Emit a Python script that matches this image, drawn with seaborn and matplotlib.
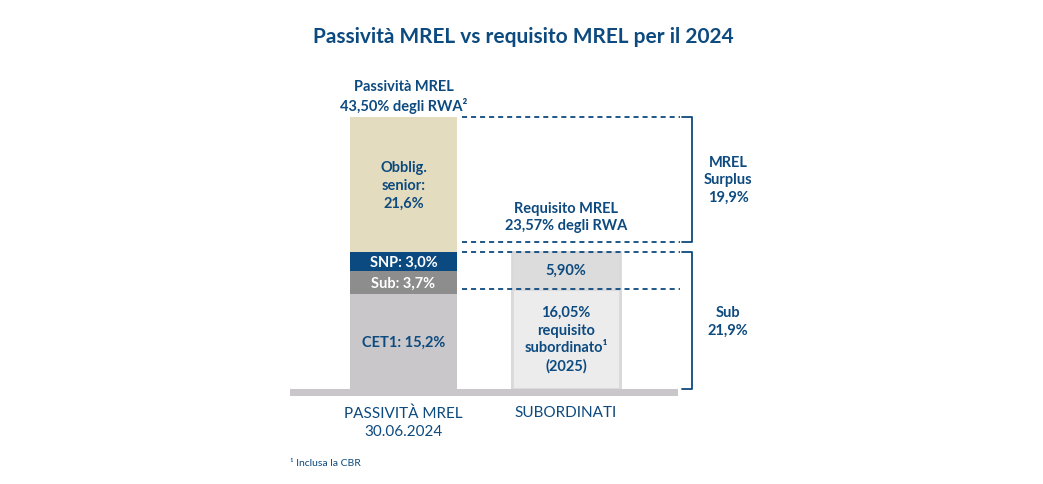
import matplotlib
matplotlib.use("Agg")
import matplotlib.pyplot as plt
import seaborn as sns
import pandas as pd

# Data (percent of RWA)
bars = ["PASSIVITÀ MREL\n30.06.2024", "SUBORDINATI"]

mrel_labels = ["CET1: 15,2%", "Sub: 3,7%", "SNP: 3,0%", "Obblig.\nsenior:\n21,6%"]
mrel_values = [15.2, 3.7, 3.0, 21.6]

sub_labels = ["16,05%\nrequisito\nsubordinato¹\n(2025)", "5,90%"]
sub_values = [16.05, 5.90]

mrel_total = 43.50
requisito_total = 23.57
surplus_value = 19.9
sub_total = 21.9

title = "Passività MREL vs requisito MREL per il 2024"
footnote = "¹ Inclusa la CBR"

# Styles
BLUE = "#0d4a7f"
mrel_colors = ["#c9c7c9", "#8e8d8e", "#0b4a80", "#e3dcbe"]
mrel_text = [BLUE, "white", "white", BLUE]
sub_colors = ["#ececec", "#dcdcdc"]

sns.set_theme(style="white")
plt.rcParams["font.family"] = ["Lato", "DejaVu Sans"]


def stack(bar, labels, values, colors, text_colors, edge):
    rows = []
    bottom = 0.0
    for lab, val, col, tcol in zip(labels, values, colors, text_colors):
        rows.append({"bar": bar, "label": lab, "value": val, "bottom": bottom,
                     "top": bottom + val, "color": col, "text": tcol, "edge": edge})
        bottom += val
    return rows


segments = pd.DataFrame(
    stack(bars[0], mrel_labels, mrel_values, mrel_colors, mrel_text, None)
    + stack(bars[1], sub_labels, sub_values, sub_colors, [BLUE, BLUE], "#d9d9d9")
)

fig = plt.figure(figsize=(10.43, 4.85), dpi=100)
ax = fig.add_axes([0, 0, 1, 1])

# overlay cumulative bars, tallest first
for _, row in segments.sort_values("top", ascending=False).iterrows():
    sns.barplot(x=[row["bar"]], y=[row["top"]], order=bars, color=row["color"],
                saturation=1, width=0.66, errorbar=None, ax=ax,
                edgecolor=row["edge"] if row["edge"] else row["color"],
                linewidth=2 if row["edge"] else 0)

for _, row in segments.iterrows():
    xpos = bars.index(row["bar"])
    ax.text(xpos, (row["bottom"] + row["top"]) / 2, row["label"], ha="center",
            va="center", color=row["text"], fontsize=10.5, fontweight="bold",
            linespacing=1.35)

# baseline shelf
ax.fill_between([-0.70, 1.69], -1.07, 0, color="#c9c7c9", lw=0)

# dashed reference lines
ax.hlines([mrel_total, requisito_total, sub_total, sub_values[0]], 0.36, 1.70,
          colors=BLUE, lw=1.3, linestyles=(0, (2.8, 2.2)))

# brackets
for lo, hi, txt in [(requisito_total, mrel_total, f"MREL\nSurplus\n{surplus_value:.1f}%".replace(".", ",")),
                    (0, sub_total, f"Sub\n{sub_total:.1f}%".replace(".", ","))]:
    ax.plot([1.714, 1.775, 1.775, 1.714], [hi, hi, lo, lo], color=BLUE, lw=1.3)
    ax.text(1.997, (lo + hi) / 2, txt, ha="center", va="center", color=BLUE,
            fontsize=10.5, fontweight="bold", linespacing=1.35)

ax.text(0, mrel_total + 0.6, f"Passività MREL\n{mrel_total:.2f}% degli RWA²".replace(".", ","),
        ha="center", va="bottom", color=BLUE, fontsize=10.5, fontweight="bold",
        linespacing=1.3)
ax.text(1, requisito_total + 1.5, f"Requisito MREL\n{requisito_total:.2f}% degli RWA".replace(".", ","),
        ha="center", va="bottom", color=BLUE, fontsize=10.5, fontweight="bold",
        linespacing=1.3)

for i, lab in enumerate(bars):
    ax.text(i, -2.6, lab, ha="center", va="top", color=BLUE, fontsize=11,
            linespacing=1.35)

ax.set_xlim(-403.5 / 162.5, (1043 - 403.5) / 162.5)
ax.set_ylim(-95 / 6.25, 390 / 6.25)
ax.axis("off")

fig.text(0.5015, 0.924, title, ha="center", va="center", color=BLUE,
         fontsize=15, fontweight="bold")
fig.text(290 / 1043, 1 - 463 / 485, footnote, ha="left", va="center",
         color=BLUE, fontsize=7.5)

fig.savefig("out.png", dpi=100, facecolor="white")
